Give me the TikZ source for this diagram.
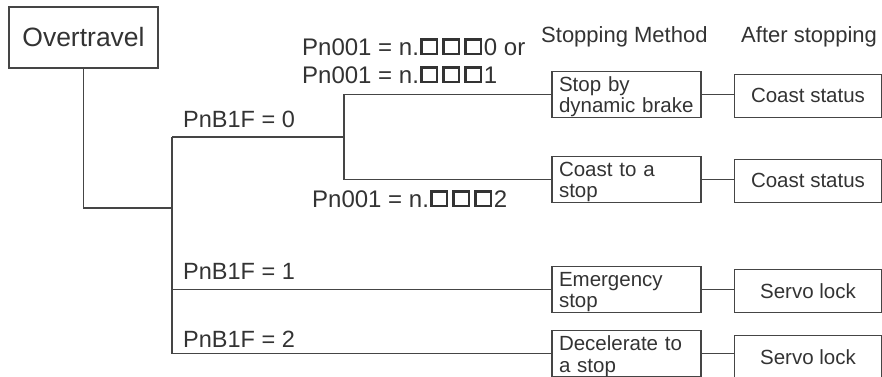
\documentclass[tikz,border=0pt]{standalone}
\usepackage{fontspec}
\setmainfont{Liberation Sans}
\usetikzlibrary{positioning,calc}
\definecolor{linegray}{HTML}{454545}
\definecolor{textgray}{HTML}{333333}
\newcommand{\dgbox}{{\setlength{\fboxrule}{2.3pt}\setlength{\fboxsep}{0pt}%
  \raisebox{2.3pt}{\fbox{\rule{0pt}{12.2pt}\rule{13.4pt}{0pt}}}}}
\newcommand{\dgboxes}{\hspace{1.5pt}\dgbox\hspace{4pt}\dgbox\hspace{4pt}\dgbox\hspace{1.5pt}}

\begin{document}
\begin{tikzpicture}[x=1pt,y=-1pt,color=textgray,
  topbox/.style={draw=linegray,line width=1.3pt,minimum width=149pt,minimum height=61pt,
    inner sep=0pt,font=\fontsize{26.5}{28}\selectfont},
  methbox/.style={draw=linegray,line width=1.3pt,minimum height=46pt,text width=135pt,
    text height=20pt,text depth=26pt,
    inner xsep=7pt,inner ysep=0pt,align=left,anchor=south,
    font=\fontsize{20.5}{21.5}\selectfont},
  endbox/.style={draw=linegray,line width=1.3pt,minimum width=147.5pt,minimum height=43pt,
    inner sep=0pt,anchor=south,font=\fontsize{20.5}{21.5}\selectfont},
  lbl/.style={anchor=base west,inner sep=0pt,font=\fontsize{23.5}{25}\selectfont},
  pnlbl/.style={anchor=base west,inner sep=0pt,font=\fontsize{24}{26}\selectfont},
  head/.style={anchor=base west,inner sep=0pt,font=\fontsize{22}{24}\selectfont},
  wire/.style={draw=linegray,line width=1.3pt}]

\useasboundingbox (0,0) rectangle (882,376);
\clip (0,0) rectangle (882,376);

\node[topbox] (ov) at (83.5,37.5) {Overtravel};

\node[head] (hstop) at (541,42) {Stopping Method};
\node[head] (hafter) at (741,42) {After stopping};

\node[methbox] (m1) at (626.5,118) {Stop by\\dynamic brake};
\node[methbox] (m2) at (626.5,203) {Coast to a\\stop};
\node[methbox] (m3) at (626.5,313) {Emergency\\stop};
\node[methbox] (m4) at (626.5,377.3) {Decelerate to\\a stop};

\node[endbox] (e1) at (808,118) {Coast status};
\node[endbox] (e2) at (808,203) {Coast status};
\node[endbox] (e3) at (808,313) {Servo lock};
\node[endbox] (e4) at (808,379) {Servo lock};

\node[lbl] (b0) at (183,127) {PnB1F = 0};
\node[lbl] (b1) at (183,279) {PnB1F = 1};
\node[lbl] (b2) at (183,347) {PnB1F = 2};
\node[pnlbl] (pa) at (302,55) {Pn001 = n.\dgboxes0 or};
\node[pnlbl] (pb) at (302,83) {Pn001 = n.\dgboxes1};
\node[pnlbl] (pc) at (312,207) {Pn001 = n.\dgboxes2};

% tree
\coordinate (trunk) at (172,208);
\coordinate (j0) at (172,137);
\coordinate (k0) at (344,137);
\draw[wire] (ov.south) |- (trunk);
\draw[wire] (j0) |- (m3.west);
\draw[wire] (j0) |- (m4.west);
\draw[wire] (j0) -- (k0);
\draw[wire] (k0) |- (m1.west);
\draw[wire] (k0) |- (m2.west);
\foreach \i in {1,...,4}
  \draw[wire] (m\i.east) -- (m\i.east -| e\i.west);
\end{tikzpicture}
\end{document}
